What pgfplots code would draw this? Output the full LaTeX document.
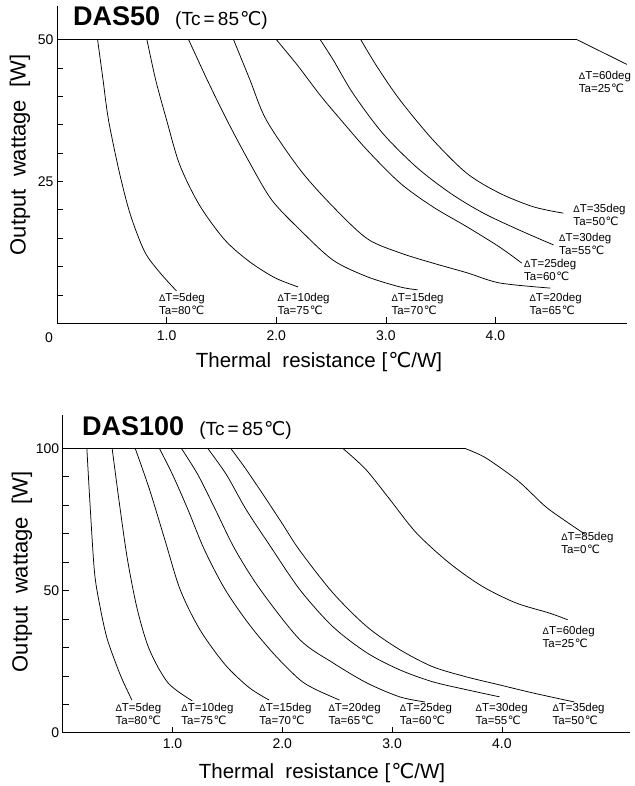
\documentclass[border=0pt]{standalone}
\usepackage{fontspec}
\setmainfont{Liberation Sans}
\newfontfamily\dejavu{DejaVu Sans}
\usepackage{pgfplots}
\pgfplotsset{compat=1.18}
\newcommand\degC{{\dejavu\kern0.05em ℃}}
\newcommand\dT{{\fontsize{9.5}{13}\selectfont Δ}T}
\newcommand\lb[2]{\dT=#1deg\\Ta=#2\degC}
\tikzset{lab/.style={anchor=north west, inner sep=0pt, align=left, font=\fontsize{11.5}{13}\selectfont}}
\pgfplotsset{myax/.style={scale only axis, anchor=south west,
  axis x line=bottom, axis y line=left, axis line style={-, line width=0.8pt},
  enlargelimits=false, clip=false,
  tick align=inside, major tick length=6pt, tick style={line width=0.6pt, black},
  xtick={1,2,3,4}, xticklabels={1.0,2.0,3.0,4.0},
  ticklabel style={font=\fontsize{14}{16}\selectfont},
  every axis plot/.append style={black, line width=0.75pt, no marks}}}
\begin{document}
\begin{tikzpicture}
\useasboundingbox (0,0) rectangle (634pt,786pt);
% ---------- DAS50 ----------
\begin{axis}[myax, at={(57pt,462.7pt)}, width=570pt, height=317.3pt,
  xmin=0, xmax=5.2, ymin=0, ymax=55.9,
  ytick={5,10,...,50}, yticklabels={,,,,25,,,,,50},
  xticklabel style={yshift=-4pt}]
\addplot[smooth] coordinates {(0.37,50) (0.42,42.9) (0.47,35.8) (0.57,26.5) (0.67,19.1) (0.80,12.6) (0.94,8.9) (1.09,5.7)};
\addplot[smooth] coordinates {(0.82,50) (0.90,42.9) (1.00,35.8) (1.12,27.9) (1.30,20.8) (1.53,14.7) (1.76,10.8) (1.99,8.0) (2.20,6.4)};
\addplot[smooth] coordinates {(1.20,50) (1.37,42.9) (1.55,35.8) (1.76,28.2) (1.96,21.7) (2.22,16.4) (2.52,11.1) (2.83,8.2) (3.13,6.4) (3.29,5.9)};
\addplot[smooth] coordinates {(1.61,50) (1.76,42.9) (1.91,35.8) (2.22,27.0) (2.52,20.5) (2.83,14.9) (3.13,12.4) (3.43,10.6) (3.74,8.9) (4.04,7.1) (4.50,6.2)};
\addplot[smooth] coordinates {(2.00,50) (2.20,45.3) (2.40,40.2) (2.60,35.6) (2.83,30.5) (3.13,24.7) (3.43,20.5) (3.74,17.0) (4.04,13.4) (4.24,10.6)};
\addplot[smooth] coordinates {(2.40,50) (2.52,46.4) (2.70,40.5) (2.97,33.5) (3.28,27.5) (3.59,22.9) (3.89,19.4) (4.22,16.4) (4.53,13.8)};
\addplot[smooth] coordinates {(2.77,50) (2.92,45.2) (3.13,39.3) (3.43,32.3) (3.74,26.4) (4.04,22.9) (4.35,20.5) (4.62,19.4)};
\addplot[sharp plot] coordinates {(0,50) (4.74,50) (5.2,45.6)};
\node[lab] at (axis cs:0.93,5.3) {\lb{5}{80}};
\node[lab] at (axis cs:2.01,5.3) {\lb{10}{75}};
\node[lab] at (axis cs:3.05,5.3) {\lb{15}{70}};
\node[lab] at (axis cs:4.31,5.3) {\lb{20}{65}};
\node[lab] at (axis cs:4.26,11.3) {\lb{25}{60}};
\node[lab] at (axis cs:4.58,15.9) {\lb{30}{55}};
\node[lab] at (axis cs:4.71,21.0) {\lb{35}{50}};
\node[lab] at (axis cs:4.76,44.5) {\lb{60}{25}};
\node[font=\fontsize{14}{16}\selectfont, xshift=-8pt, yshift=-14.7pt] at (axis cs:0,0) {0};
\end{axis}
% ---------- DAS100 ----------
\begin{axis}[myax, at={(62.7pt,53.3pt)}, width=567.6pt, height=317.7pt,
  xmin=0, xmax=5.17, ymin=0, ymax=111.7,
  ytick={0,10,...,100}, yticklabels={0,,,,,50,,,,,100},
  xticklabel style={yshift=-2pt}]
\addplot[smooth] coordinates {(0.22,100) (0.25,79.6) (0.29,56.3) (0.34,44.3) (0.40,33.7) (0.47,25.8) (0.54,18.9) (0.63,11.5)};
\addplot[smooth] coordinates {(0.45,100) (0.52,79.6) (0.59,60.9) (0.68,43.3) (0.79,29.2) (0.96,17.5) (1.18,11.2)};
\addplot[smooth] coordinates {(0.66,100) (0.79,85.6) (0.93,67.9) (1.07,50.3) (1.25,36.2) (1.48,23.9) (1.70,15.8) (1.88,11.5)};
\addplot[smooth] coordinates {(0.88,100) (1.00,90.8) (1.14,78.5) (1.29,64.4) (1.48,50.3) (1.70,38.0) (1.93,27.4) (2.16,18.6) (2.31,15.1) (2.52,11.5)};
\addplot[smooth] coordinates {(1.08,100) (1.23,90.8) (1.39,78.5) (1.57,64.4) (1.80,50.3) (2.16,32.7) (2.46,24.6) (2.77,17.5) (3.07,12.6) (3.30,10.8)};
\addplot[smooth] coordinates {(1.32,100) (1.49,90.8) (1.67,78.5) (1.88,66.2) (2.16,50.3) (2.46,37.3) (2.77,28.1) (3.07,22.1) (3.37,17.9) (3.68,15.1) (3.98,12.6)};
\addplot[smooth] coordinates {(1.53,100) (1.67,92.6) (1.85,82.3) (2.00,73.5) (2.16,64.0) (2.46,49.2) (2.77,37.3) (3.07,29.2) (3.37,23.2) (3.68,19.6) (3.98,16.8) (4.28,14.0) (4.66,10.8)};
\addplot[smooth] coordinates {(2.55,100) (2.76,92.6) (2.98,82.0) (3.22,70.3) (3.52,59.7) (3.82,51.5) (4.13,45.6) (4.43,42.1) (4.60,39.7)};
\addplot[sharp plot] coordinates {(0,100) (3.66,100)};
\addplot[smooth] coordinates {(3.66,100) (3.85,96.7) (4.13,89.1) (4.28,83.8) (4.43,78.5) (4.76,69.7)};
\node[lab] at (axis cs:0.48,10.5) {\lb{5}{80}};
\node[lab] at (axis cs:1.08,10.5) {\lb{10}{75}};
\node[lab] at (axis cs:1.79,10.5) {\lb{15}{70}};
\node[lab] at (axis cs:2.42,10.5) {\lb{20}{65}};
\node[lab] at (axis cs:3.07,10.5) {\lb{25}{60}};
\node[lab] at (axis cs:3.76,10.5) {\lb{30}{55}};
\node[lab] at (axis cs:4.46,10.5) {\lb{35}{50}};
\node[lab] at (axis cs:4.37,37.6) {\lb{60}{25}};
\node[lab] at (axis cs:4.54,70.4) {\lb{85}{0}};
\end{axis}
% ---------- titles and axis labels ----------
\node[anchor=base west, inner sep=0pt] at (73pt,760pt) {\fontsize{27}{30}\selectfont\bfseries DAS50\ \ \fontsize{19}{22}\mdseries(Tc\,=\,85\degC)};
\node[anchor=base west, inner sep=0pt] at (82pt,350.3pt) {\fontsize{27}{30}\selectfont\bfseries DAS100\ \ \fontsize{19}{22}\mdseries(Tc\,=\,85\degC)};
\node[font=\fontsize{20.5}{24}\selectfont] at (319pt,424pt) {Thermal\ \ resistance [\degC/W]};
\node[font=\fontsize{20.5}{24}\selectfont] at (322pt,13pt) {Thermal\ \ resistance [\degC/W]};
\node[font=\fontsize{22}{26}\selectfont, rotate=90] at (20pt,631pt) {Output\hspace{0.55em}wattage\hspace{0.55em}[W]};
\node[font=\fontsize{22}{26}\selectfont, rotate=90] at (22pt,214pt) {Output\hspace{0.55em}wattage\hspace{0.55em}[W]};
\end{tikzpicture}
\end{document}
